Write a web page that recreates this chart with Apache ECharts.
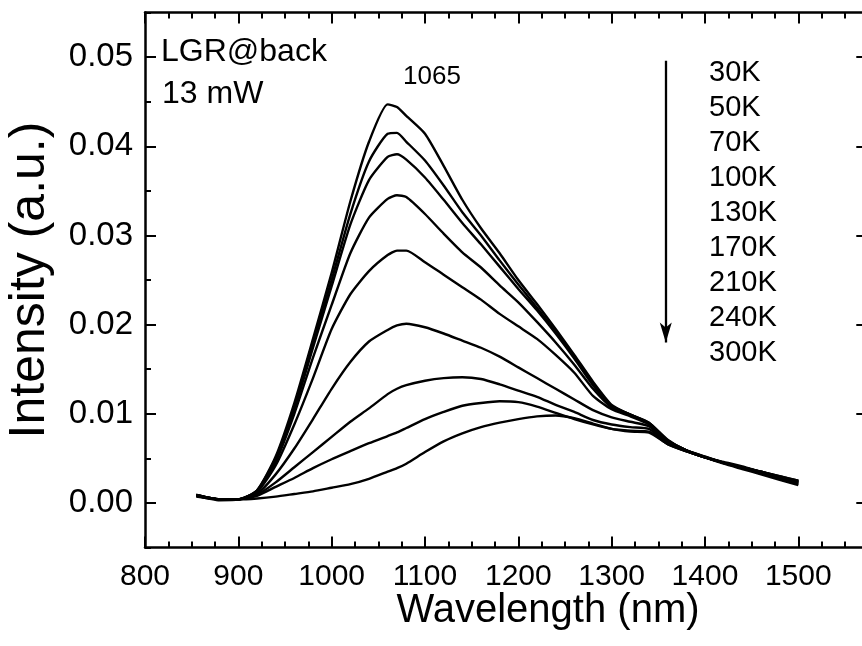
<!DOCTYPE html>
<html><head><meta charset="utf-8">
<script src="https://cdn.jsdelivr.net/npm/echarts@6/dist/echarts.min.js"></script>
<style>html,body{margin:0;padding:0;background:#fff}#c{width:862px;height:646px}</style>
</head><body><div id="c"></div><script>
const wavelengths = [855,880,900,920,940,960,980,1000,1020,1040,1060,1070,1080,1100,1120,1140,1160,1180,1200,1220,1240,1260,1280,1300,1320,1340,1360,1380,1400,1420,1440,1460,1480,1500];
const temps = ['30K','50K','70K','100K','130K','170K','210K','240K','300K'];
const i30K  = [0.0008,0.0004,0.0004,0.0014,0.0052,0.0112,0.0184,0.0258,0.0338,0.0405,0.0447,0.0444,0.0434,0.0414,0.0378,0.0340,0.0308,0.0280,0.0250,0.0223,0.0195,0.0166,0.0136,0.0110,0.0099,0.0090,0.0070,0.0059,0.0051,0.0044,0.0038,0.0032,0.0026,0.0020];
const i50K  = [0.0009,0.0004,0.0004,0.0014,0.0050,0.0108,0.0179,0.0250,0.0324,0.0383,0.0414,0.0415,0.0405,0.0384,0.0356,0.0326,0.0300,0.0272,0.0245,0.0219,0.0192,0.0164,0.0134,0.0109,0.0099,0.0090,0.0071,0.0059,0.0052,0.0045,0.0039,0.0033,0.0027,0.0021];
const i70K  = [0.0008,0.0003,0.0004,0.0013,0.0048,0.0105,0.0174,0.0243,0.0312,0.0362,0.0388,0.0391,0.0385,0.0365,0.0340,0.0314,0.0290,0.0265,0.0240,0.0216,0.0190,0.0162,0.0132,0.0108,0.0099,0.0089,0.0070,0.0059,0.0052,0.0045,0.0040,0.0034,0.0028,0.0022];
const i100K = [0.0009,0.0004,0.0004,0.0013,0.0046,0.0100,0.0163,0.0222,0.0280,0.0320,0.0341,0.0345,0.0343,0.0324,0.0302,0.0281,0.0264,0.0244,0.0225,0.0203,0.0180,0.0155,0.0128,0.0107,0.0098,0.0089,0.0070,0.0059,0.0051,0.0045,0.0039,0.0034,0.0028,0.0023];
const i130K = [0.0008,0.0004,0.0004,0.0012,0.0042,0.0088,0.0140,0.0195,0.0234,0.0260,0.0278,0.0283,0.0283,0.0270,0.0256,0.0242,0.0228,0.0212,0.0198,0.0184,0.0166,0.0146,0.0120,0.0105,0.0097,0.0088,0.0069,0.0059,0.0051,0.0045,0.0040,0.0034,0.0029,0.0023];
const i170K = [0.0009,0.0004,0.0004,0.0010,0.0032,0.0061,0.0094,0.0128,0.0158,0.0181,0.0194,0.0199,0.0201,0.0197,0.0190,0.0182,0.0174,0.0164,0.0152,0.0140,0.0128,0.0116,0.0104,0.0096,0.0091,0.0086,0.0068,0.0058,0.0051,0.0045,0.0040,0.0035,0.0029,0.0024];
const i210K = [0.0008,0.0004,0.0004,0.0009,0.0023,0.0040,0.0057,0.0074,0.0091,0.0106,0.0122,0.0128,0.0132,0.0137,0.0140,0.0141,0.0139,0.0133,0.0126,0.0119,0.0110,0.0102,0.0093,0.0088,0.0085,0.0083,0.0067,0.0058,0.0051,0.0045,0.0040,0.0035,0.0029,0.0024];
const i240K = [0.0009,0.0004,0.0004,0.0008,0.0018,0.0028,0.0039,0.0049,0.0058,0.0067,0.0075,0.0079,0.0084,0.0094,0.0102,0.0109,0.0112,0.0114,0.0113,0.0108,0.0101,0.0094,0.0088,0.0083,0.0081,0.0080,0.0066,0.0058,0.0051,0.0045,0.0040,0.0035,0.0030,0.0025];
const i300K = [0.0007,0.0004,0.0004,0.0005,0.0007,0.0010,0.0013,0.0017,0.0021,0.0027,0.0035,0.0039,0.0044,0.0057,0.0069,0.0078,0.0085,0.0090,0.0094,0.0097,0.0098,0.0095,0.0089,0.0083,0.0080,0.0079,0.0066,0.0058,0.0051,0.0046,0.0041,0.0035,0.0030,0.0025];
const intensities = [i30K,i50K,i70K,i100K,i130K,i170K,i210K,i240K,i300K];
const xTicks = [800,900,1000,1100,1200,1300,1400,1500];
const yTicks = [0,0.01,0.02,0.03,0.04,0.05];
const peakLabel = '1065';
const sampleLabel = ['LGR@back','13 mW'];
const arrowX = 1358, arrowFrom = 0.0496, arrowTo = 0.0180;

const FONT = 'Liberation Sans, Arial, sans-serif';
const chart = echarts.init(document.getElementById('c'));
const axisLine = {show:true, onZero:false, lineStyle:{color:'#000', width:2.5}};
const noLine = {show:false, onZero:false};
const tickStyle = {color:'#000', width:2};
const series = temps.map((t,k)=>({
  name:t, type:'line', xAxisIndex:0, yAxisIndex:0,
  data: wavelengths.map((w,i)=>[w, intensities[k][i]]),
  showSymbol:false, smooth:0.2,
  lineStyle:{color:'#000', width:2.4}, itemStyle:{color:'#000'},
  silent:true
}));
series[0].markLine = {
  silent:true, symbol:['none','arrow'], symbolSize:[9,20],
  label:{show:false}, lineStyle:{color:'#000', width:2.3, type:'solid'},
  data:[[{coord:[arrowX, arrowFrom]},{coord:[arrowX, arrowTo]}]]
};
const texts = [];
texts.push({type:'text', left:161, top:36, style:{text:sampleLabel[0], font:'32px '+FONT, fill:'#000'}});
texts.push({type:'text', left:162, top:78, style:{text:sampleLabel[1], font:'32px '+FONT, fill:'#000'}});
texts.push({type:'text', left:403, top:64, style:{text:peakLabel, font:'26px '+FONT, fill:'#000'}});
temps.forEach((t,i)=>{
  texts.push({type:'text', left:709, top:58 + 35.1*i, style:{text:t, font:'29px '+FONT, fill:'#000'}});
});
texts.push({type:'text', x:548, y:611, style:{text:'Wavelength (nm)', font:'40px '+FONT, fill:'#000', align:'center', verticalAlign:'middle'}});
texts.push({type:'text', x:30, y:280, rotation:Math.PI/2, style:{text:'Intensity (a.u.)', font:'50px '+FONT, fill:'#000', align:'center', verticalAlign:'middle'}});

const xBase = {type:'value', min:800, max:1575, splitLine:{show:false}, minorSplitLine:{show:false}};
const yBase = {type:'value', min:-0.005, max:0.055, interval:0.005, splitLine:{show:false}};
chart.setOption({
  animation:false,
  backgroundColor:'#fff',
  grid:{left:145, top:12.5, width:723.3, height:535, containLabel:false, outerBoundsMode:'none'},
  xAxis:[
    Object.assign({}, xBase, {position:'bottom', interval:25,
     axisLine, axisTick:{show:true, inside:true, length:6, lineStyle:tickStyle},
     axisLabel:{fontSize:30, color:'#000', fontFamily:FONT, margin:14,
       formatter:v=> (v%100===0 && v<=1500) ? String(v) : ''}}),
    Object.assign({}, xBase, {position:'bottom', interval:25,
     axisLine:noLine, axisTick:{show:true, inside:true, length:11, customValues:xTicks, lineStyle:tickStyle},
     axisLabel:{show:false}}),
    Object.assign({}, xBase, {position:'top', interval:25,
     axisLine, axisTick:{show:true, inside:true, length:6, lineStyle:tickStyle},
     axisLabel:{show:false}}),
    Object.assign({}, xBase, {position:'top', interval:25,
     axisLine:noLine, axisTick:{show:true, inside:true, length:11, customValues:xTicks, lineStyle:tickStyle},
     axisLabel:{show:false}})
  ],
  yAxis:[
    Object.assign({}, yBase, {position:'left',
     axisLine, axisTick:{show:true, inside:true, length:6, lineStyle:tickStyle},
     axisLabel:{fontSize:33, color:'#000', fontFamily:FONT, margin:12,
       formatter:v=>{const m=Math.round(v*1000); return (m>=0 && m%10===0)? (m/1000).toFixed(2):'';}}}),
    Object.assign({}, yBase, {position:'left',
     axisLine:noLine, axisTick:{show:true, inside:true, length:11, customValues:yTicks, lineStyle:tickStyle},
     axisLabel:{show:false}}),
    Object.assign({}, yBase, {position:'right',
     axisLine, axisTick:{show:true, inside:true, length:12, customValues:yTicks, lineStyle:tickStyle},
     axisLabel:{show:false}})
  ],
  series,
  graphic:texts
});
</script></body></html>
